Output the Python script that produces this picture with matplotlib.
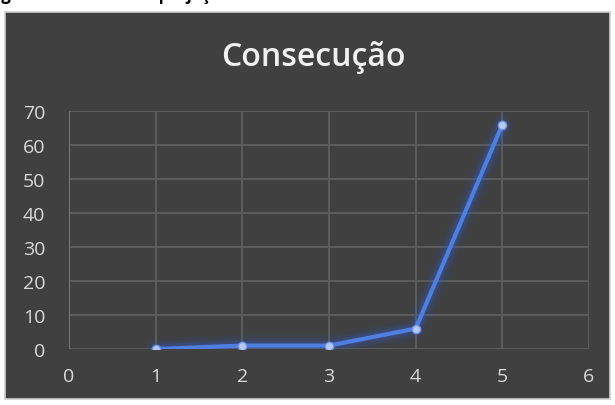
import matplotlib
matplotlib.use('Agg')
from matplotlib import pyplot as plt
from matplotlib.patches import Rectangle

# data
x_vals = [1, 2, 3, 4, 5]
y_vals = [0, 1, 1, 6, 66]
x_ticks = [0, 1, 2, 3, 4, 5, 6]
y_ticks = [0, 10, 20, 30, 40, 50, 60, 70]
title = 'Consecução'
caption = 'Figura 3 – Gráfico de projeção'

bg = '#404040'
grid_c = '#5e5e5e'
text_c = '#d9d9d9'
line_c = '#4f7fe0'

plt.rcParams['font.family'] = ['Open Sans', 'DejaVu Sans']

fig = plt.figure(figsize=(6.15, 4.06), dpi=100)
fig.patch.set_facecolor('white')

# dark chart area with light border
fig.add_artist(Rectangle((5 / 615, 6 / 406), 605 / 615, 387 / 406,
                         transform=fig.transFigure, facecolor=bg,
                         edgecolor='#d0d0d0', linewidth=1.2, zorder=-5))

# cut-off caption at the very top
fig.text(-13 / 615, 1.0, caption, ha='left', va='baseline', fontsize=12,
         fontweight='bold', color='black')

ax = fig.add_axes([69 / 615, 56 / 406, 520 / 615, 238 / 406])
ax.set_zorder(1)
ax.set_facecolor(bg)

ax.set_xlim(0, 6)
ax.set_ylim(0, 70)
ax.set_xticks(x_ticks)
ax.set_yticks(y_ticks)
ax.grid(True, color=grid_c, linewidth=1.3)
ax.set_axisbelow(True)
for s in ax.spines.values():
    s.set_visible(False)
ax.axvline(0, color='#7a7a7a', linewidth=1.3, zorder=1)
ax.tick_params(length=0, colors=text_c, labelsize=14)
ax.tick_params(axis='x', pad=13)
ax.tick_params(axis='y', pad=17)

# glow under the line
for w, a in [(16, 0.06), (11, 0.10), (7, 0.2)]:
    ax.plot(x_vals, y_vals, color='#2d62e0', linewidth=w, alpha=a,
            solid_capstyle='round', zorder=2)
ax.plot(x_vals, y_vals, color=line_c, linewidth=3, zorder=3)
ax.plot(x_vals, y_vals, linestyle='none', marker='o', markersize=6,
        markerfacecolor='#b8c9f0', markeredgecolor='#6f95e8',
        markeredgewidth=1, zorder=4)

fig.text(313 / 615, 1 - 58 / 406, title, ha='center', va='center',
         fontsize=23, fontweight='semibold', color='#f0f0f0')

fig.savefig('out.png', dpi=100, facecolor=fig.get_facecolor())
